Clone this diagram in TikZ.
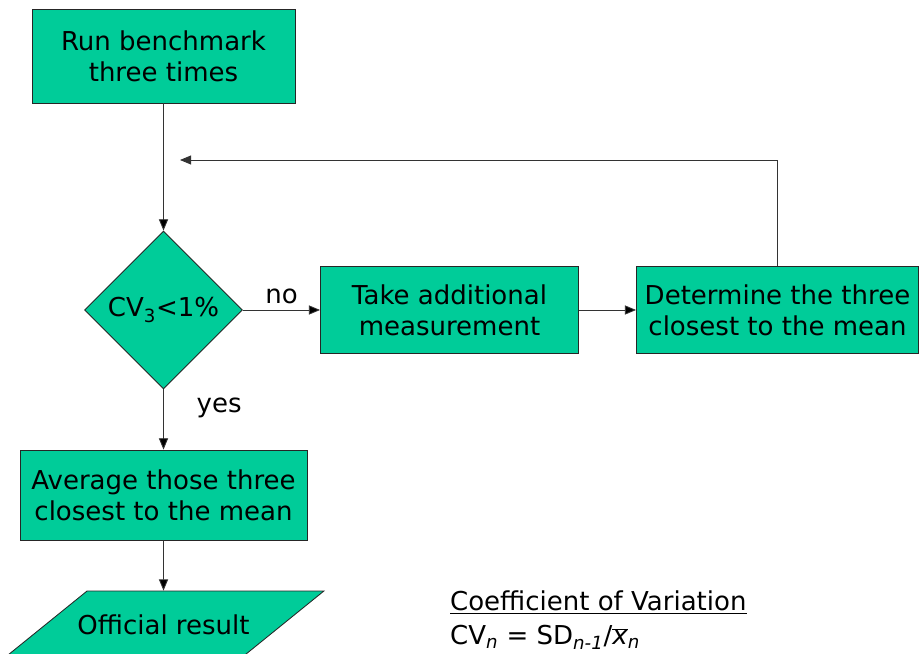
\documentclass[tikz,border=0pt]{standalone}
\usepackage{fontspec}
\setmainfont{DejaVu Sans}
\usepackage{xcolor}
\usepackage{tikz}
\usetikzlibrary{arrows.meta}
\usetikzlibrary{shapes.geometric}
\usetikzlibrary{positioning}

\definecolor{cvgreen}{RGB}{0,204,153}

\begin{document}
\begin{tikzpicture}[->,>={Triangle[length=8pt,width=6.5pt]},auto,node distance=6.35cm,
                    line width=0.6pt]
 				 \tikzstyle{box}=[draw=black!85, fill=cvgreen, rectangle, align=center, inner sep=0pt,
 				                  font=\fontsize{18.5}{22}\selectfont]
 				 \tikzstyle{test}=[draw=black!85, fill=cvgreen, diamond, aspect=1, inner sep=0pt,
 				                   minimum size=3.95cm, font=\fontsize{18.5}{22}\selectfont]
 				 \tikzstyle{result}=[draw=black!85, fill=cvgreen, trapezium, trapezium left angle=39,
 				                     trapezium right angle=141, inner xsep=-0.24cm, inner ysep=17pt,
 				                     font=\fontsize{18.5}{22}\selectfont]
 				 \tikzstyle{lbl}=[font=\fontsize{18.5}{22}\selectfont, black]
 				 \useasboundingbox (0,0) rectangle (23.025,-16.35);
 					 \node[box, minimum width=6.575cm, minimum height=2.35cm] (run) at (4.0875,-1.4)
 					       {Run benchmark\\three times};
  					 \node[test]         (dec) [below of=run] {CV\textsubscript{3}<1\%};
  					 \node[box, minimum width=6.45cm, minimum height=2.175cm]
  					       (take) [right of=dec, node distance=7.15cm] {Take additional\\measurement};
  					 \node[box, minimum width=7.05cm, minimum height=2.175cm]
  					       (det) [right of=take, node distance=8.2cm] {Determine the three\\closest to the mean};
  					 \node[box, minimum width=7.175cm, minimum height=2.25cm]
  					       (avg) [below of=dec, node distance=4.625cm] {Average those three\\closest to the mean};
  					 \node[result]       (off) [below of=avg, node distance=3.25cm] {Official result};
  					 \coordinate (loop) at (4.5,-4.0);
  					 \node[lbl, anchor=base west, align=left] (cv) at (11.125,-16.125)
  					       {\underline{Coefficient of Variation}\\[2.4pt]
  					        CV\textsubscript{\textit{n}} = SD\textsubscript{\textit{n-1}}/$\overline{\mbox{\textit{x}}}$\textsubscript{\textit{n}}};
 					 \path[draw=black!80] (run) edge (dec)
 					 		 	(dec) edge node[lbl, above=1pt] {no} (take)
 					 		 	(take) edge (det)
 					 		 	(dec) edge node[lbl, pos=0.3, right=0.7cm] {yes} (avg)
 					 			(avg) edge (off);
 					 \draw[draw=black!80] (det.north) |- (loop);
				\end{tikzpicture}
\end{document}
